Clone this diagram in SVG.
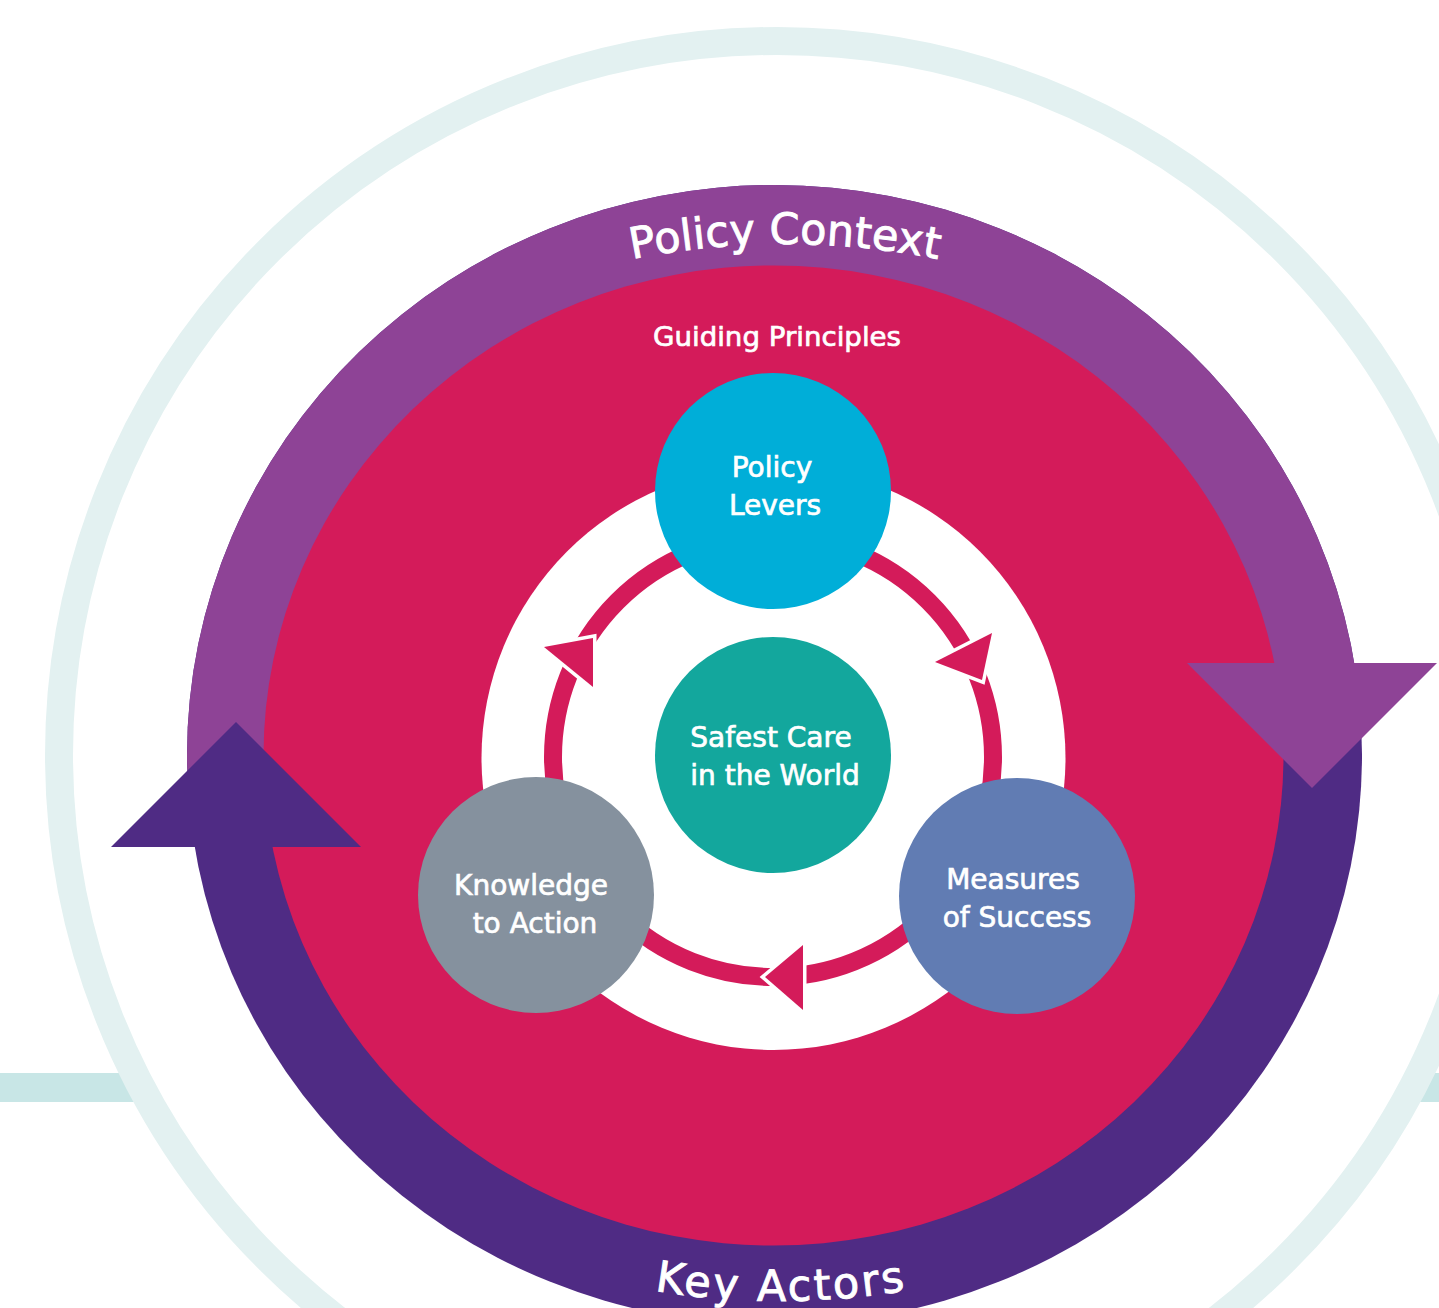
<svg xmlns="http://www.w3.org/2000/svg" width="1439" height="1308" viewBox="0 0 1439 1308">
  <style>
    .lbl { font-family: "DejaVu Sans", "Liberation Sans", sans-serif; fill: #ffffff; text-anchor: middle; stroke: #ffffff; stroke-width: 0.7; }
    .node { font-size: 28px; }
    .arc { font-size: 43px; stroke-width: 0.9; }
    .tri { fill: #d41b5a; stroke: #ffffff; stroke-width: 7; stroke-linejoin: miter; paint-order: stroke fill; }
  </style>
  <defs>
    <clipPath id="topHalf">
      <polygon points="0,0 1439,0 1439,700 774,755 0,800"/>
    </clipPath>
    <path id="topArc" d="M 5,1024 A 780 780 0 0 1 1565,1024"/>
    <path id="botArc" d="M 20,541 A 760 760 0 0 0 1540,541"/>
  </defs>
  <rect x="0" y="0" width="1439" height="1308" fill="#ffffff"/>

  <g id="background">
    <rect x="0" y="1073" width="1439" height="29" fill="#c8e6e6"/>
    <ellipse cx="777" cy="755" rx="718" ry="714" fill="#ffffff" stroke="#e3f1f1" stroke-width="28"/>
  </g>

  <g id="key-actors-ring">
    <ellipse cx="774.5" cy="755" rx="587.5" ry="570" fill="#4f2b84"/>
  </g>
  <g id="policy-context-ring">
    <ellipse cx="774.5" cy="755" rx="587.5" ry="570" fill="#8e4396" clip-path="url(#topHalf)"/>
  </g>

  <g id="guiding-principles">
    <ellipse cx="773.5" cy="755.5" rx="510" ry="490" fill="#d41b5a"/>
    <text class="lbl" x="777" y="346" font-size="27" textLength="248" lengthAdjust="spacingAndGlyphs">Guiding Principles</text>
  </g>

  <g id="connectors">
    <polygon points="1187,663 1437,663 1312,788" fill="#8e4396"/>
    <polygon points="111,847 361,847 236,722" fill="#4f2b84"/>
    <circle cx="773.5" cy="758" r="292" fill="#ffffff"/>
    <circle cx="773" cy="757" r="220" fill="none" stroke="#d41b5a" stroke-width="18"/>
    <polygon class="tri" points="544,647 593,687 593,638"/>
    <polygon class="tri" points="935,662 992,633 982,680"/>
    <polygon class="tri" points="803,945 803,1010 765,977"/>
  </g>

  <g id="policy-context-label">
    <text class="lbl arc"><textPath href="#topArc" startOffset="50%" textLength="308" lengthAdjust="spacing">Policy Context</textPath></text>
  </g>
  <g id="key-actors-label">
    <text class="lbl arc" font-size="45"><textPath href="#botArc" startOffset="50%" textLength="252" lengthAdjust="spacing">Key Actors</textPath></text>
  </g>

  <g id="policy-levers">
    <circle cx="773" cy="491" r="118" fill="#00aed8"/>
    <text class="lbl node" x="772" y="477">Policy</text>
    <text class="lbl node" x="775" y="515">Levers</text>
  </g>
  <g id="safest-care">
    <circle cx="773" cy="755" r="118" fill="#13a79d"/>
    <text class="lbl node" x="771" y="747">Safest Care</text>
    <text class="lbl node" x="775" y="785">in the World</text>
  </g>
  <g id="knowledge-to-action">
    <circle cx="536" cy="895" r="118" fill="#85919e"/>
    <text class="lbl node" x="531" y="895">Knowledge</text>
    <text class="lbl node" x="535" y="933">to Action</text>
  </g>
  <g id="measures-of-success">
    <circle cx="1017" cy="896" r="118" fill="#617cb3"/>
    <text class="lbl node" x="1013" y="889">Measures</text>
    <text class="lbl node" x="1017" y="927">of Success</text>
  </g>
</svg>
